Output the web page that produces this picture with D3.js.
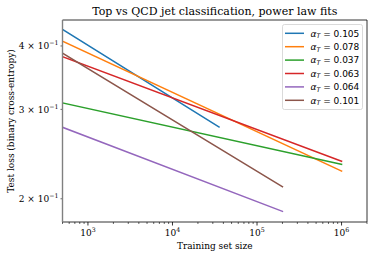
<!DOCTYPE html>
<html>
<head>
<meta charset="utf-8">
<script src="https://cdn.jsdelivr.net/npm/d3@7"></script>
<style>
body { margin: 0; background: #fff; }
svg { display: block; }
</style>
</head>
<body>
<div id="chart"></div>
<script>
// power law fits: each line runs from nStart to nEnd
var labels = ["0.105", "0.078", "0.037", "0.063", "0.064", "0.101"];
var nStart = [500, 500, 500, 500, 500, 500];
var nEnd = [35500, 1e6, 1e6, 1e6, 2e5, 2e5];
var lossStart = [0.431, 0.409, 0.309, 0.381, 0.2766, 0.387];
var lossEnd = [0.277, 0.2268, 0.2337, 0.2372, 0.1889, 0.2113];
var colors = ["#1f77b4", "#ff7f0e", "#2ca02c", "#d62728", "#9467bd", "#8c564b"];

var xMajor = [1e3, 1e4, 1e5, 1e6];
var xMajorExp = ["3", "4", "5", "6"];
var yTicks = [0.2, 0.3, 0.4];
var yTickMant = ["2", "3", "4"];

var width = 374, height = 257;
var margin = {left: 62.5, right: 7, top: 20, bottom: 35};
var serif = "'DejaVu Serif', serif";
var sans = "'DejaVu Sans', sans-serif";

var svg = d3.select("#chart").append("svg")
    .attr("width", width)
    .attr("height", height);

var x = d3.scaleLog()
    .domain([500, 2e6])
    .range([margin.left, width - margin.right]);

var y = d3.scaleLog()
    .domain([0.18, 0.45])
    .range([height - margin.bottom, margin.top]);

svg.append("clipPath").attr("id", "plotclip")
    .append("rect")
    .attr("x", margin.left).attr("y", margin.top)
    .attr("width", width - margin.left - margin.right)
    .attr("height", height - margin.top - margin.bottom);

// lines
var series = labels.map(function(l, i) {
    return [[nStart[i], lossStart[i]], [nEnd[i], lossEnd[i]]];
});

var line = d3.line()
    .x(function(d) { return x(d[0]); })
    .y(function(d) { return y(d[1]); });

svg.append("g").attr("clip-path", "url(#plotclip)")
    .selectAll("path")
    .data(series)
    .enter()
    .append("path")
    .attr("d", line)
    .attr("fill", "none")
    .attr("stroke", function(d, i) { return colors[i]; })
    .attr("stroke-width", 1.5)
    .attr("stroke-linecap", "square");

// x axis: minor ticks
var xMinor = [];
for (var e = 2; e <= 6; e++) {
    for (var m = 2; m <= 9; m++) {
        var v = m * Math.pow(10, e);
        if (v >= 500 && v <= 2e6) xMinor.push(v);
    }
}
var xb = height - margin.bottom;
svg.append("g").selectAll("line.minor")
    .data(xMinor).enter().append("line")
    .attr("x1", function(d) { return x(d); })
    .attr("x2", function(d) { return x(d); })
    .attr("y1", xb).attr("y2", xb + 2)
    .attr("stroke", "#000").attr("stroke-width", 0.6);

svg.append("g").selectAll("line.major")
    .data(xMajor).enter().append("line")
    .attr("x1", function(d) { return x(d); })
    .attr("x2", function(d) { return x(d); })
    .attr("y1", xb).attr("y2", xb + 3.5)
    .attr("stroke", "#000").attr("stroke-width", 0.8);

var xl = svg.append("g").selectAll("text")
    .data(xMajor).enter().append("text")
    .attr("x", function(d) { return x(d); })
    .attr("y", xb + 13.5)
    .attr("text-anchor", "middle")
    .attr("font-family", serif)
    .attr("font-size", 9);
xl.append("tspan").text("10");
xl.append("tspan")
    .attr("dy", -4)
    .attr("font-size", 6.3)
    .text(function(d, i) { return xMajorExp[i]; });

// y axis ticks (labelled minor ticks of the log scale)
svg.append("g").selectAll("line")
    .data(yTicks).enter().append("line")
    .attr("x1", margin.left - 2).attr("x2", margin.left)
    .attr("y1", function(d) { return y(d); })
    .attr("y2", function(d) { return y(d); })
    .attr("stroke", "#000").attr("stroke-width", 0.6);

var yl = svg.append("g").selectAll("text")
    .data(yTicks).enter().append("text")
    .attr("x", margin.left - 4)
    .attr("y", function(d) { return y(d) + 3.2; })
    .attr("text-anchor", "end")
    .attr("font-family", serif)
    .attr("font-size", 9);
yl.append("tspan").text(function(d, i) { return yTickMant[i] + " \u00d7 10"; });
yl.append("tspan")
    .attr("dy", -4)
    .attr("font-size", 6.3)
    .text("\u22121");

// spines
var x0 = margin.left, x1 = width - margin.right, y0 = margin.top, y1 = height - margin.bottom;
svg.append("line").attr("x1", x0).attr("x2", x1).attr("y1", y0).attr("y2", y0)
    .attr("stroke", "#000").attr("stroke-width", 0.8);
svg.append("line").attr("x1", x1).attr("x2", x1).attr("y1", y0).attr("y2", y1)
    .attr("stroke", "#000").attr("stroke-width", 0.8);
svg.append("line").attr("x1", x0).attr("x2", x1).attr("y1", y1).attr("y2", y1)
    .attr("stroke", "#000").attr("stroke-width", 0.8);
svg.append("line").attr("x1", x0).attr("x2", x0).attr("y1", y0).attr("y2", y1)
    .attr("stroke", "#808080").attr("stroke-width", 1.4);

// title and axis labels
svg.append("text")
    .attr("x", (x0 + x1) / 2).attr("y", 14.5)
    .attr("text-anchor", "middle")
    .attr("font-family", serif)
    .attr("font-size", 11)
    .text("Top vs QCD jet classification, power law fits");

svg.append("text")
    .attr("x", (x0 + x1) / 2).attr("y", 249)
    .attr("text-anchor", "middle")
    .attr("font-family", serif)
    .attr("font-size", 9)
    .text("Training set size");

svg.append("text")
    .attr("transform", "translate(13.5," + ((y0 + y1) / 2) + ") rotate(-90)")
    .attr("text-anchor", "middle")
    .attr("font-family", serif)
    .attr("font-size", 9)
    .text("Test loss (binary cross-entropy)");

// legend
var lg = svg.append("g");
lg.append("rect")
    .attr("x", 282.5).attr("y", 24.5)
    .attr("width", 80).attr("height", 85)
    .attr("rx", 2)
    .attr("fill", "#fff").attr("fill-opacity", 0.8)
    .attr("stroke", "#d0d0d0").attr("stroke-width", 0.8);

var items = lg.selectAll("g.item")
    .data(labels).enter().append("g")
    .attr("transform", function(d, i) { return "translate(0," + (33.3 + i * 13.4) + ")"; });

items.append("line")
    .attr("x1", 285).attr("x2", 304)
    .attr("y1", 0).attr("y2", 0)
    .attr("stroke", function(d, i) { return colors[i]; })
    .attr("stroke-width", 1.5);

var lt = items.append("text")
    .attr("x", 310.5).attr("y", 3.3)
    .attr("font-family", sans)
    .attr("font-size", 9);
lt.append("tspan").attr("font-style", "italic").text("\u03b1");
lt.append("tspan").attr("font-style", "italic").attr("font-size", 6.3).attr("dy", 1.5).text("T");
lt.append("tspan").attr("dy", -1.5).text(function(d) { return " = " + d; });
</script>
</body>
</html>
